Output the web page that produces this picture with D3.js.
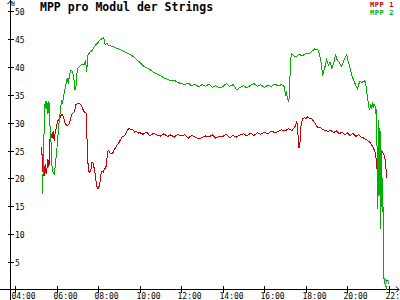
<!DOCTYPE html>
<html>
<head>
<meta charset="utf-8">
<script src="https://cdn.jsdelivr.net/npm/d3@7"></script>
<style>
  html, body { margin: 0; padding: 0; background: #fff; }
  svg { display: block; font-family: "DejaVu Sans Mono", monospace; }
</style>
</head>
<body>
<div id="chart"></div>
<script>
// ---- data ----
const title = 'MPP pro Modul der Strings';
const seriesNames = ['MPP 1', 'MPP 2'];
const seriesColors = ['#c80000', '#00b000'];
const yTicks = [5, 10, 15, 20, 25, 30, 35, 40, 45, 50];
const xTickLabels = ['04:00', '06:00', '08:00', '10:00', '12:00', '14:00', '16:00', '18:00', '20:00', '22:00'];

const times1 = ['05:17','05:19','05:21','05:24','05:27','05:30','05:32','05:35','05:38','05:41','05:44','05:47','05:50','05:53','05:56','05:59',
  '06:02','06:05','06:08','06:12','06:16','06:20','06:24','06:28','06:32','06:36','06:40','06:44','06:48','06:52','06:56',
  '07:00','07:05','07:10','07:15','07:19','07:23','07:26','07:28','07:30','07:33','07:36','07:39','07:42','07:45','07:48','07:51','07:54','07:57',
  '08:00','08:03','08:06','08:09','08:12','08:15','08:18','08:21','08:24','08:27','08:30','08:34','08:38','08:42','08:46','08:50','08:55',
  '09:00','09:05','09:10','09:15','09:20','09:25','09:30','09:35','09:40','09:45','09:50','09:55',
  '10:00','10:10','10:20','10:30','10:40','10:50','11:00','11:10','11:20','11:30','11:40','11:50',
  '12:00','12:10','12:20','12:30','12:40','12:50','13:00','13:10','13:20','13:30','13:40','13:50',
  '14:00','14:10','14:20','14:30','14:40','14:50','15:00','15:10','15:20','15:30','15:40','15:50',
  '16:00','16:10','16:20','16:30','16:40','16:50','17:00','17:10','17:20','17:30','17:34','17:37','17:40','17:43','17:46','17:50','17:55',
  '18:00','18:05','18:10','18:15','18:20','18:25','18:30','18:35','18:40','18:48','18:56',
  '19:04','19:12','19:20','19:28','19:36','19:44','19:52','20:00','20:08','20:16','20:24','20:32','20:40','20:48','20:56',
  '21:02','21:06','21:10','21:14','21:18','21:21','21:24','21:26','21:28','21:30','21:33','21:36','21:40','21:44','21:48','21:51','21:54'];
const mpp1 = [25.6,23.0,21.0,20.5,22.5,20.8,21.5,23.5,22.0,27.0,28.0,27.2,28.5,26.8,28.2,29.0,
  30.0,30.6,30.2,31.3,31.4,31.0,30.0,29.6,29.4,29.8,30.5,31.5,31.8,32.0,33.2,
  33.4,33.4,33.3,32.5,32.0,31.8,31.7,27.0,23.2,21.3,21.0,21.4,22.8,22.9,22.0,21.0,19.5,18.4,
  18.2,18.6,19.6,21.0,21.3,21.1,21.6,21.9,22.3,24.8,25.0,24.6,24.4,24.5,25.1,25.5,26.0,
  26.4,27.0,27.5,27.6,28.0,28.8,28.9,28.7,28.8,28.3,28.5,28.1,
  28.2,27.9,28.3,27.6,28.1,27.8,27.6,28.0,27.5,27.8,27.4,27.9,
  27.6,27.8,27.2,27.7,27.4,27.1,27.3,27.6,27.4,27.8,27.2,27.6,
  27.5,27.9,27.3,27.7,27.4,27.8,28.0,27.6,28.1,27.7,28.2,27.9,
  28.3,28.0,28.5,28.2,28.4,28.7,28.5,28.9,28.6,29.4,30.2,28.0,25.5,26.5,29.5,30.6,30.9,
  30.7,31.0,30.8,30.8,30.4,30.0,29.5,29.0,29.2,28.8,28.6,
  28.4,28.6,28.2,28.5,28.0,28.3,27.8,28.2,27.6,28.1,27.5,27.8,27.4,27.2,26.9,
  26.6,26.4,26.0,25.6,25.0,24.6,22.8,21.2,22.5,24.6,23.0,24.6,24.8,24.5,23.8,22.0,20.0];

const times2 = ['05:18','05:21','05:24','05:27','05:30','05:32','05:35','05:38','05:41','05:44','05:47','05:50','05:53','05:56','05:59',
  '06:02','06:05','06:08','06:11','06:14','06:17','06:20','06:23','06:27','06:31','06:34','06:38','06:42','06:46','06:50','06:53','06:56','06:59',
  '07:02','07:08','07:14','07:20','07:24','07:27','07:30','07:36','07:42','07:48','07:54',
  '08:00','08:06','08:12','08:16','08:20','08:25','08:30','08:40','08:50',
  '09:00','09:10','09:20','09:30','09:40','09:50','10:00','10:10','10:20','10:30','10:40','10:50',
  '11:00','11:10','11:20','11:30','11:40','11:50',
  '12:00','12:10','12:20','12:30','12:40','12:50','13:00','13:10','13:20','13:30','13:40','13:50',
  '14:00','14:10','14:20','14:30','14:40','14:50','15:00','15:10','15:20','15:30','15:40','15:50',
  '16:00','16:10','16:20','16:30','16:40','16:50','16:57','17:01','17:04','17:07','17:10','17:12','17:14','17:16','17:19','17:24',
  '17:30','17:40','17:50','18:00','18:10','18:18','18:25','18:35','18:40','18:45','18:48','18:55',
  '19:00','19:05','19:10','19:15','19:22','19:25','19:30','19:36','19:42','19:48','19:54','19:58',
  '20:02','20:06','20:10','20:14','20:18','20:22','20:26','20:29','20:32','20:36','20:42','20:48','20:52','20:55','20:58',
  '21:01','21:04','21:07','21:10','21:13','21:16','21:19','21:22','21:24','21:26','21:28','21:30','21:32','21:34','21:36','21:38',
  '21:40','21:42','21:44','21:46','21:50','21:54'];
const mpp2 = [17.2,21.0,28.5,33.9,32.5,33.8,31.5,33.8,29.5,26.5,22.0,21.0,20.7,22.0,24.0,
  26.0,28.5,30.5,32.0,33.9,33.5,34.5,35.6,36.8,38.0,37.0,38.8,39.4,39.2,38.0,35.8,36.4,38.8,
  39.8,40.2,40.5,40.5,41.0,39.0,42.0,42.6,42.9,43.5,44.0,
  44.4,44.8,45.1,45.3,44.0,44.2,43.8,43.7,43.4,
  43.2,42.9,42.6,42.3,41.9,41.4,40.8,40.2,39.8,39.5,39.0,38.7,
  38.4,38.0,37.8,37.5,37.6,37.2,
  37.0,36.8,37.1,36.6,36.9,36.4,36.8,36.5,36.9,36.3,36.6,36.2,
  36.4,37.0,36.5,36.8,35.9,36.3,36.6,36.2,36.7,37.0,36.5,36.8,
  36.3,36.7,36.5,36.9,36.6,36.8,36.5,35.0,35.4,34.2,33.8,34.5,38.0,41.5,42.3,42.0,
  41.8,42.2,42.0,42.4,42.3,42.8,43.2,43.0,42.0,40.5,38.4,40.0,
  41.3,40.3,40.8,39.8,41.0,42.2,41.3,40.8,40.0,40.8,41.8,42.2,
  41.0,40.2,39.2,38.2,37.6,37.0,36.4,36.0,36.8,37.4,37.2,37.5,37.3,35.8,34.5,
  33.0,32.2,33.4,32.5,33.6,32.8,33.3,31.5,32.5,23.0,14.5,30.5,17.0,29.0,11.0,25.0,
  14.0,20.0,5.0,1.4,0.9,0.1];

// ---- layout ----
const width = 400, height = 300;
const parseTime = d3.timeParse('%H:%M');

const svg = d3.select('#chart').append('svg')
  .attr('width', width)
  .attr('height', height);

svg.append('rect').attr('width', width).attr('height', height).attr('fill', '#fff');

const x = d3.scaleTime()
  .domain([parseTime('04:00'), parseTime('22:00')])
  .range([15, 389]);
const y = d3.scaleLinear()
  .domain([0, 50])
  .range([290, 11]);

const axisX = 10.5, axisY = 289.5;

// y axis with arrow
const axes = svg.append('g').attr('stroke', '#000').attr('fill', 'none').attr('shape-rendering', 'crispEdges');
axes.append('line').attr('x1', axisX).attr('x2', axisX).attr('y1', 0).attr('y2', height);
axes.append('path').attr('d', `M${axisX - 3},4L${axisX},1L${axisX + 3},4`).attr('shape-rendering', 'auto');
// x axis with arrow
axes.append('line').attr('x1', 0).attr('x2', 399).attr('y1', axisY).attr('y2', axisY);
axes.append('path').attr('d', `M396,${axisY - 3}L399,${axisY}L396,${axisY + 3}`).attr('shape-rendering', 'auto');

// y ticks
const yt = svg.append('g').selectAll('g').data(yTicks).join('g')
  .attr('transform', d => `translate(0,${Math.round(y(d)) + 0.5})`);
yt.append('line').attr('x1', 8).attr('x2', 14).attr('stroke', '#000').attr('shape-rendering', 'crispEdges');
yt.append('text').attr('x', 15).attr('y', 3).attr('font-size', 8).attr('fill', '#000').text(d => d);

// x ticks
const xt = svg.append('g').selectAll('g').data(xTickLabels).join('g')
  .attr('transform', d => `translate(${Math.round(x(parseTime(d))) + 0.5},0)`);
xt.append('line').attr('y1', 286).attr('y2', 293).attr('stroke', '#000').attr('shape-rendering', 'crispEdges');
xt.append('text').attr('x', -4).attr('y', 299).attr('font-size', 8).attr('fill', '#000').text(d => d);

// axis units
svg.append('text').attr('x', 11).attr('y', 6).attr('font-size', 6.5).text('U');
svg.append('text').attr('x', 385).attr('y', 284).attr('font-size', 7).text('h');

// lines
const line = d3.line()
  .x(d => x(d[0]))
  .y(d => y(d[1]));

const series = [
  { name: seriesNames[0], color: seriesColors[0], pts: times1.map((t, i) => [parseTime(t), mpp1[i]]) },
  { name: seriesNames[1], color: seriesColors[1], pts: times2.map((t, i) => [parseTime(t), mpp2[i]]) }
];

svg.append('g').selectAll('path').data(series).join('path')
  .attr('d', d => line(d.pts))
  .attr('fill', 'none')
  .attr('stroke', d => d.color)
  .attr('stroke-width', 1)
  .attr('shape-rendering', 'crispEdges');

// title
svg.append('text').attr('x', 40).attr('y', 11)
  .attr('font-size', 11.5).attr('font-weight', 'bold').attr('fill', '#000')
  .text(title);

// legend
svg.append('g').selectAll('text').data(series).join('text')
  .attr('x', 394)
  .attr('y', (d, i) => 7 + i * 7.5)
  .attr('text-anchor', 'end')
  .attr('font-size', 7)
  .attr('letter-spacing', 0.6)
  .attr('font-weight', 'bold')
  .attr('fill', d => d.color)
  .text(d => d.name);
</script>
</body>
</html>
